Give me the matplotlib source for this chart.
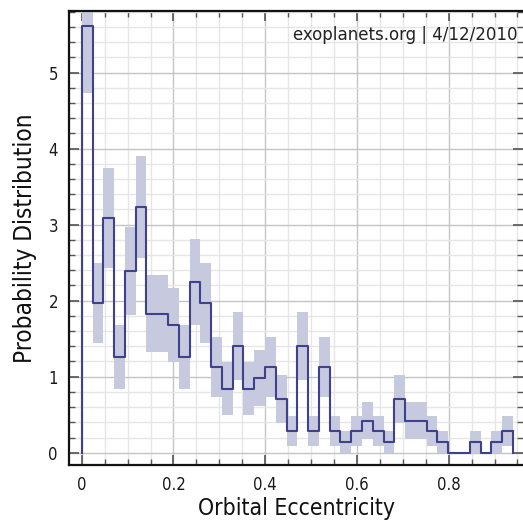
import matplotlib
matplotlib.use("Agg")
import matplotlib.pyplot as plt
import numpy as np
from matplotlib.ticker import MultipleLocator

plt.rcParams["font.family"] = "DejaVu Sans"
plt.rcParams["font.stretch"] = "condensed"

# planets per eccentricity bin (40 bins between e = 0 and e = 0.94)
e_min = 0.0
e_max = 0.94
counts = [40, 14, 22, 9, 17, 23, 13, 13, 12, 9,
          16, 14, 8, 6, 10, 6, 7, 8, 5, 2,
          10, 2, 8, 2, 1, 2, 3, 2, 1, 5,
          3, 3, 2, 1, 0, 0, 1, 0, 1, 2]

edges = np.linspace(e_min, e_max, len(counts) + 1)
width = edges[1] - edges[0]
counts = np.array(counts, dtype=float)
norm = counts.sum() * width
dens = counts / norm
err = np.sqrt(counts) / norm

line_col = "#3d418f"
band_col = "#c7c9de"

fig = plt.figure(figsize=(5.23, 5.20), dpi=100)
ax = fig.add_axes([0.132, 0.106, 0.868, 0.873])

# poisson error band
ax.bar(edges[:-1], 2 * err, bottom=dens - err, width=width, align="edge",
       color=band_col, linewidth=0, zorder=2)

# step outline, closed down to zero at both ends
step_x = np.concatenate([[edges[0]], edges])
step_y = np.concatenate([[0], dens, [dens[-1]]])
ax.step(step_x, step_y, where="post", color=line_col, lw=1.5, zorder=3)
ax.plot([edges[-1], edges[-1]], [dens[-1], 0], color=line_col, lw=1.5, zorder=3)

ax.set_xlim(-0.0277, 0.962)
ax.set_ylim(-0.16, 5.81)

ax.xaxis.set_minor_locator(MultipleLocator(0.05))
ax.yaxis.set_major_locator(MultipleLocator(1))
ax.yaxis.set_minor_locator(MultipleLocator(0.2))
ax.set_xticks([0, 0.2, 0.4, 0.6, 0.8])
ax.set_xticklabels(["0", "0.2", "0.4", "0.6", "0.8"])

ax.grid(which="major", color="#c4c4c4", lw=1.0, zorder=0)
ax.grid(which="minor", color="#e6e6e6", lw=1.0, zorder=0)
ax.set_axisbelow(True)

ax.tick_params(which="both", direction="in", top=True, right=True,
               labelsize=12, labelcolor="#1a1a1a", pad=8)
ax.tick_params(which="major", length=7, width=1.2, color="#555555")
ax.tick_params(which="minor", length=4, width=1.0, color="#555555")

for side in ["left", "bottom", "top"]:
    ax.spines[side].set_linewidth(1.6)
    ax.spines[side].set_color("#111111")
ax.spines["right"].set_visible(False)

ax.set_xlabel("Orbital Eccentricity", fontsize=16.5, color="#111111", labelpad=2)
ax.set_ylabel("Probability Distribution", fontsize=17.5, color="#111111", labelpad=8)

ax.text(0.987, 0.936, "exoplanets.org | 4/12/2010", transform=ax.transAxes,
        ha="right", va="baseline", fontsize=13.3, color="#222222", zorder=5)

fig.savefig("out.png", dpi=100)
